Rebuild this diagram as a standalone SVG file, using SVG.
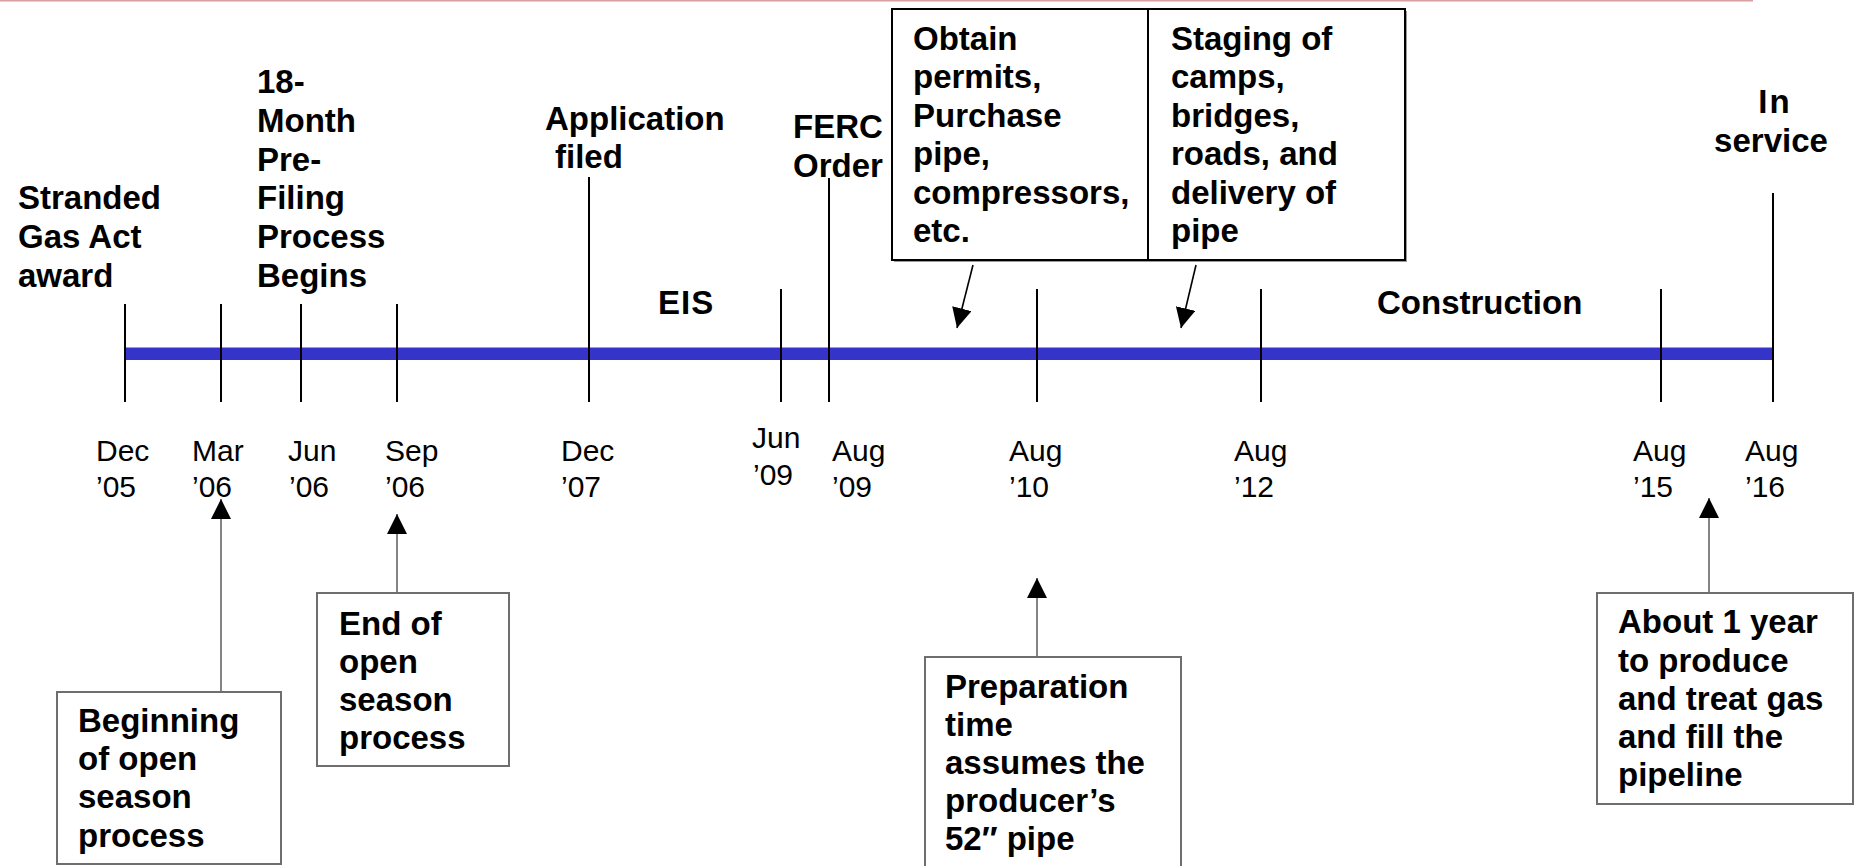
<svg xmlns="http://www.w3.org/2000/svg" width="1858" height="866" viewBox="0 0 1858 866">
<style>
.lbl{font-family:"Liberation Sans",Arial,sans-serif;font-weight:bold;font-size:33px;fill:#000}
.date{font-family:"Liberation Sans",Arial,sans-serif;font-size:30px;fill:#000}
.tick{stroke:#000;stroke-width:2}
.box{fill:#fff;stroke:#6e6e6e;stroke-width:2}
.conn{stroke:#666;stroke-width:1.6;fill:none}
.conn2{stroke:#000;stroke-width:1.6;fill:none}
</style>
<defs>
<marker id="ah" viewBox="0 0 20 20" refX="20" refY="10" markerWidth="20" markerHeight="20" markerUnits="userSpaceOnUse" orient="auto">
<path d="M0,0 L20,10 L0,20 Z" fill="#000"/>
</marker>
</defs>
<rect width="1858" height="866" fill="#fff"/>
<line x1="0" y1="0.8" x2="1753" y2="0.8" stroke="#d8a0a0" stroke-width="1.6"/>

<g id="timeline">
<rect x="125" y="347" width="1648" height="13" fill="#3434c8"/>
<line x1="125" y1="347.5" x2="1773" y2="347.5" stroke="#9a9ae8" stroke-width="1"/>
<line class="tick" x1="125" y1="304" x2="125" y2="402"/>
<line class="tick" x1="221" y1="304" x2="221" y2="402"/>
<line class="tick" x1="301" y1="304" x2="301" y2="402"/>
<line class="tick" x1="397" y1="304" x2="397" y2="402"/>
<line class="tick" x1="589" y1="177" x2="589" y2="402"/>
<line class="tick" x1="781" y1="289" x2="781" y2="402"/>
<line class="tick" x1="829" y1="178" x2="829" y2="402"/>
<line class="tick" x1="1037" y1="289" x2="1037" y2="402"/>
<line class="tick" x1="1261" y1="289" x2="1261" y2="402"/>
<line class="tick" x1="1661" y1="289" x2="1661" y2="402"/>
<line class="tick" x1="1773" y1="193" x2="1773" y2="402"/>
</g>

<g id="dates">
<text class="date" x="96" y="461">Dec</text><text class="date" x="96" y="497">’05</text>
<text class="date" x="192" y="461">Mar</text><text class="date" x="192" y="497">’06</text>
<text class="date" x="288" y="461">Jun</text><text class="date" x="289" y="497">’06</text>
<text class="date" x="385" y="461">Sep</text><text class="date" x="385" y="497">’06</text>
<text class="date" x="561" y="461">Dec</text><text class="date" x="561" y="497">’07</text>
<text class="date" x="752" y="448">Jun</text><text class="date" x="753" y="485">’09</text>
<text class="date" x="832" y="461">Aug</text><text class="date" x="832" y="497">’09</text>
<text class="date" x="1009" y="461">Aug</text><text class="date" x="1009" y="497">’10</text>
<text class="date" x="1234" y="461">Aug</text><text class="date" x="1234" y="497">’12</text>
<text class="date" x="1633" y="461">Aug</text><text class="date" x="1633" y="497">’15</text>
<text class="date" x="1745" y="461">Aug</text><text class="date" x="1745" y="497">’16</text>
</g>

<g id="stranded">
<text class="lbl" x="18" y="209">Stranded</text>
<text class="lbl" x="18" y="248">Gas Act</text>
<text class="lbl" x="18" y="287">award</text>
</g>
<g id="prefiling">
<text class="lbl" x="257" y="93">18-</text>
<text class="lbl" x="257" y="132">Month</text>
<text class="lbl" x="257" y="171">Pre-</text>
<text class="lbl" x="257" y="209">Filing</text>
<text class="lbl" x="257" y="248">Process</text>
<text class="lbl" x="257" y="287">Begins</text>
</g>
<g id="application">
<text class="lbl" x="545" y="130">Application</text>
<text class="lbl" x="555" y="168">filed</text>
</g>
<g id="ferc">
<text class="lbl" x="793" y="138">FERC</text>
<text class="lbl" x="793" y="177">Order</text>
</g>
<g id="eis"><text class="lbl" x="658" y="314" letter-spacing="1">EIS</text></g>
<g id="construction"><text class="lbl" x="1377" y="314">Construction</text></g>
<g id="inservice">
<text class="lbl" x="1775" y="113" text-anchor="middle" letter-spacing="2">In</text>
<text class="lbl" x="1771" y="152" text-anchor="middle">service</text>
</g>

<g id="top-box">
<rect x="894" y="11" width="513" height="251" fill="#999"/>
<rect x="892" y="9" width="513" height="251" fill="#fff" stroke="#000" stroke-width="2"/>
<line x1="1148" y1="9" x2="1148" y2="260" stroke="#000" stroke-width="2"/>
</g>
<g id="obtain">
<text class="lbl" x="913" y="50">Obtain</text>
<text class="lbl" x="913" y="88">permits,</text>
<text class="lbl" x="913" y="127">Purchase</text>
<text class="lbl" x="913" y="165">pipe,</text>
<text class="lbl" x="913" y="204">compressors,</text>
<text class="lbl" x="913" y="242">etc.</text>
</g>
<g id="staging">
<text class="lbl" x="1171" y="50">Staging of</text>
<text class="lbl" x="1171" y="88">camps,</text>
<text class="lbl" x="1171" y="127">bridges,</text>
<text class="lbl" x="1171" y="165">roads, and</text>
<text class="lbl" x="1171" y="204">delivery of</text>
<text class="lbl" x="1171" y="242">pipe</text>
</g>

<g id="beginning">
<rect class="box" x="57" y="692" width="224" height="172"/>
<text class="lbl" x="78" y="732">Beginning</text>
<text class="lbl" x="78" y="770">of open</text>
<text class="lbl" x="78" y="808">season</text>
<text class="lbl" x="78" y="847">process</text>
</g>
<g id="end">
<rect class="box" x="317" y="593" width="192" height="173"/>
<text class="lbl" x="339" y="635">End of</text>
<text class="lbl" x="339" y="673">open</text>
<text class="lbl" x="339" y="711">season</text>
<text class="lbl" x="339" y="749">process</text>
</g>
<g id="preparation">
<rect class="box" x="925" y="657" width="256" height="230"/>
<text class="lbl" x="945" y="698">Preparation</text>
<text class="lbl" x="945" y="736">time</text>
<text class="lbl" x="945" y="774">assumes the</text>
<text class="lbl" x="945" y="812">producer’s</text>
<text class="lbl" x="945" y="850">52″ pipe</text>
</g>
<g id="about">
<rect class="box" x="1597" y="593" width="256" height="211"/>
<text class="lbl" x="1618" y="633">About 1 year</text>
<text class="lbl" x="1618" y="672">to produce</text>
<text class="lbl" x="1618" y="710">and treat gas</text>
<text class="lbl" x="1618" y="748">and fill the</text>
<text class="lbl" x="1618" y="786">pipeline</text>
</g>

<g id="connectors">
<line class="conn2" x1="973" y1="265" x2="957" y2="328" marker-end="url(#ah)"/>
<line class="conn2" x1="1196" y1="265" x2="1181" y2="328" marker-end="url(#ah)"/>
<line class="conn" x1="221" y1="691" x2="221" y2="499" marker-end="url(#ah)"/>
<line class="conn" x1="397" y1="592" x2="397" y2="514" marker-end="url(#ah)"/>
<line class="conn" x1="1037" y1="656" x2="1037" y2="578" marker-end="url(#ah)"/>
<line class="conn" x1="1709" y1="592" x2="1709" y2="498" marker-end="url(#ah)"/>
</g>
</svg>
